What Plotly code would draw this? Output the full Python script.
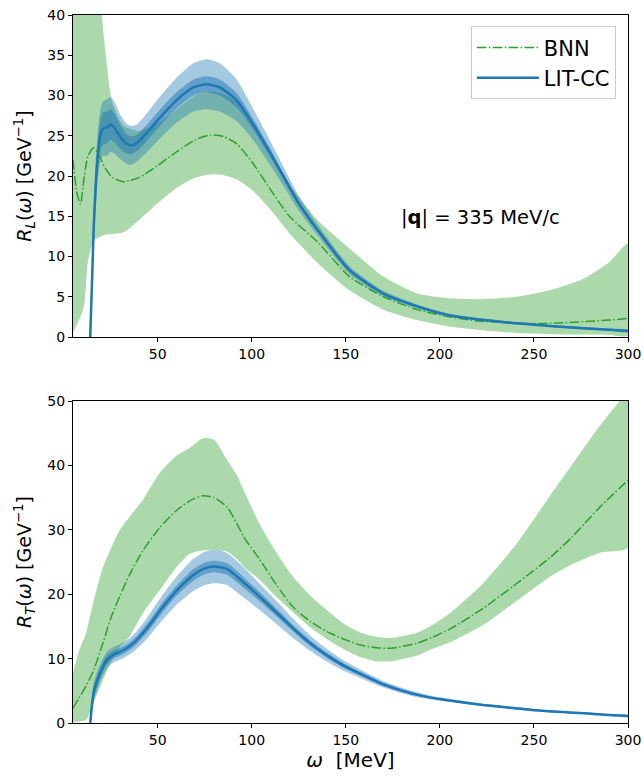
import plotly.graph_objects as go

# ---------------- Data ----------------
# Longitudinal response R_L, BNN
omega_bnn_L = [5, 7, 9, 11, 13, 16, 19, 22, 26, 32, 40, 50, 60, 70, 78, 85, 92, 100,
               110, 120, 135, 152, 170, 188, 205, 220, 241, 260, 276, 290, 300]
RL_bnn_mean = [22, 18, 16.5, 20, 22.5, 23.5, 22.5, 21, 19.8, 19.3, 19.8, 21.3, 23, 24.5, 25.1,
               24.9, 24, 21.8, 18.3, 15, 11.8, 7.5, 5, 3.4, 2.5, 2.0, 1.7, 1.7, 1.9, 2.1, 2.3]
RL_bnn_upper = [60, 60, 60, 58, 55, 48, 43, 36, 29, 26.2, 25.6, 26.5, 28.3, 30, 30.5, 30.2,
                29.3, 27, 22.8, 19, 14.5, 11, 7.5, 5.4, 4.8, 4.7, 5.0, 5.9, 7.2, 9.3, 11.6]
RL_bnn_lower = [0.5, 1.5, 2.5, 4, 9.5, 12, 12.4, 12.7, 12.8, 13, 14.5, 16.6, 18.5, 19.8, 20.2,
                20.1, 19.6, 18.3, 15.8, 12.9, 9.2, 5.8, 3.4, 2.1, 1.3, 0.9, 0.5, 0.35, 0.3, 0.25, 0.2]

# Longitudinal response R_L, LIT-CC
omega_lit_L = [14, 15, 16, 17, 18, 19.5, 21, 23, 25, 27, 30, 33.5, 36, 39, 44, 51, 60, 69, 76,
               83, 92, 100, 110, 117, 125, 135, 152, 170, 188, 205, 220, 241, 260, 276, 290, 300]
RL_lit_mean = [-1, 6, 13.5, 18.5, 22, 25, 25.9, 26, 26.4, 26, 24.9, 24, 23.8, 24.1, 25.3, 27.2,
               29.4, 31, 31.4, 31, 29.4, 26.7, 22.8, 19.9, 16.6, 13.3, 8.3, 5.4, 3.8, 2.7, 2.2,
               1.7, 1.35, 1.1, 0.9, 0.75]
RL_lit_err_outer = [3, 3, 3, 3, 3, 3.2, 3.4, 3.5, 3.4, 3.2, 2.8, 2.5, 2.4, 2.3, 2.4, 2.6, 2.8,
                    3.0, 3.1, 3.0, 2.6, 2.0, 1.5, 1.2, 0.9, 0.7, 0.5, 0.35, 0.25, 0.2, 0.15,
                    0.15, 0.15, 0.15, 0.15, 0.15]
RL_lit_err_inner = [1.8, 1.8, 1.8, 1.8, 1.8, 1.9, 2.0, 2.0, 1.9, 1.8, 1.5, 1.2, 1.1, 1.0, 1.0,
                    1.0, 1.0, 1.0, 1.0, 1.0, 0.9, 0.7, 0.5, 0.4, 0.3, 0.25, 0.2, 0.15, 0.12,
                    0.1, 0.1, 0.1, 0.1, 0.1, 0.1, 0.1]

# Transverse response R_T, BNN
omega_bnn_T = [5, 8, 12, 16, 21, 25, 30, 35, 42, 51, 60, 67, 74, 80, 87, 92, 96, 104, 113, 122,
               131, 140, 150, 158, 166, 174, 188, 196, 206, 223, 241, 259, 270, 277, 286, 300]
RT_bnn_mean = [2.3, 3.8, 5.8, 8.2, 12.5, 16.2, 19.8, 23, 26.7, 30.3, 33, 34.5, 35.3, 35.0, 33.5,
               31, 28.8, 25.5, 21.5, 18, 15.8, 14.2, 12.9, 12.1, 11.7, 11.6, 12.4, 13.3, 14.7,
               17.8, 21.7, 25.8, 28.8, 31, 33.8, 37.7]
RT_bnn_upper = [7.8, 11, 14, 19, 24.2, 27, 30, 32, 34.6, 38.8, 41.5, 42.7, 44.2, 44, 40.8, 38.5,
                36, 31, 26.5, 22.7, 19.8, 17.5, 15.2, 14, 13.4, 13.2, 14, 15.2, 17.2, 21.7,
                27.9, 35.5, 40, 42.9, 46.5, 51]
RT_bnn_lower = [0.2, 0.2, 0.5, 3.2, 6.7, 9.3, 11.8, 13.4, 17, 20.6, 24.2, 26.3, 26.8, 26.9, 26.6,
                25.5, 24.2, 22.3, 19.6, 17.2, 14.9, 13, 11.3, 10.2, 9.6, 9.6, 10.5, 11.5, 12.6,
                15.2, 19, 22.8, 24.6, 25.5, 26.5, 27.2]

# Transverse response R_T, LIT-CC
omega_lit_T = [14, 15, 16, 17, 19.5, 23, 26.5, 31.8, 37.2, 44.3, 51.4, 60.2, 69, 75, 80, 87, 97,
               105, 113, 122, 131, 140, 149, 158, 170, 185, 196, 210, 223, 240, 250, 265, 277,
               290, 300]
RT_lit_mean = [-0.5, 2.5, 4.8, 5.8, 7.8, 9.8, 10.6, 11.3, 12.4, 14.7, 17.5, 20.6, 23, 24, 24.3,
               23.9, 21.5, 19.4, 17.2, 14.7, 12.4, 10.5, 8.9, 7.6, 6.0, 4.6, 3.9, 3.3, 2.8, 2.3,
               2.0, 1.7, 1.5, 1.25, 1.1]
RT_lit_err_outer = [1.5, 1.5, 1.5, 1.5, 1.4, 1.3, 1.2, 1.2, 1.3, 1.6, 1.9, 2.2, 2.5, 2.6, 2.6,
                    2.5, 2.3, 2.0, 1.8, 1.5, 1.2, 1.0, 0.8, 0.65, 0.5, 0.4, 0.3, 0.25, 0.2, 0.2,
                    0.2, 0.15, 0.15, 0.15, 0.15]
RT_lit_err_inner = [1.0, 1.0, 1.0, 0.9, 0.8, 0.7, 0.6, 0.6, 0.6, 0.7, 0.8, 0.8, 0.9, 0.9, 0.9,
                    0.9, 0.8, 0.7, 0.6, 0.5, 0.45, 0.4, 0.35, 0.3, 0.25, 0.2, 0.15, 0.12, 0.1,
                    0.1, 0.1, 0.1, 0.1, 0.1, 0.1]

x_ticks = [50, 100, 150, 200, 250, 300]
yL_ticks = [0, 5, 10, 15, 20, 25, 30, 35, 40]
yT_ticks = [0, 10, 20, 30, 40, 50]

# ---------------- Styling ----------------
GREEN = "#2ca02c"
BLUE = "#1f77b4"
GREEN_FILL = "rgba(44,160,44,0.4)"
BLUE_FILL_OUT = "rgba(31,119,180,0.4)"
BLUE_FILL_IN = "rgba(31,119,180,0.5)"
FONT = "DejaVu Sans"
BNN_DASH = "9.6px,2.4px,1.5px,2.4px"


def band(x, lo, hi, color, xa, ya):
    return go.Scatter(x=list(x) + list(x)[::-1], y=list(hi) + list(lo)[::-1],
                      fill="toself", fillcolor=color, mode="lines",
                      line=dict(width=0, shape="spline", smoothing=0.6),
                      showlegend=False, hoverinfo="skip", xaxis=xa, yaxis=ya)


def add_panel(fig, wb, mb, ub, lb, wl, ml, eo, ei, xa, ya, legend):
    fig.add_trace(band(wb, lb, ub, GREEN_FILL, xa, ya))
    fig.add_trace(band(wl, [m - e for m, e in zip(ml, eo)], [m + e for m, e in zip(ml, eo)],
                       BLUE_FILL_OUT, xa, ya))
    fig.add_trace(band(wl, [m - e for m, e in zip(ml, ei)], [m + e for m, e in zip(ml, ei)],
                       BLUE_FILL_IN, xa, ya))
    fig.add_trace(go.Scatter(x=wb, y=mb, mode="lines", name="BNN",
                             line=dict(color=GREEN, width=1.5, dash=BNN_DASH,
                                       shape="spline", smoothing=0.6),
                             showlegend=legend, legendgroup="a", xaxis=xa, yaxis=ya))
    fig.add_trace(go.Scatter(x=wl, y=ml, mode="lines", name="LIT-CC",
                             line=dict(color=BLUE, width=2.5, shape="spline", smoothing=0.6),
                             showlegend=legend, legendgroup="b", xaxis=xa, yaxis=ya))


fig = go.Figure()
add_panel(fig, omega_bnn_L, RL_bnn_mean, RL_bnn_upper, RL_bnn_lower,
          omega_lit_L, RL_lit_mean, RL_lit_err_outer, RL_lit_err_inner, "x", "y", True)
add_panel(fig, omega_bnn_T, RT_bnn_mean, RT_bnn_upper, RT_bnn_lower,
          omega_lit_T, RT_lit_mean, RT_lit_err_outer, RT_lit_err_inner, "x2", "y2", False)

axis_common = dict(showline=True, mirror=True, linecolor="black", linewidth=1,
                   ticks="outside", ticklen=4, tickwidth=1, tickcolor="black",
                   showgrid=False, zeroline=False, automargin=False,
                   tickfont=dict(family=FONT, size=14, color="black"))

fig.update_layout(
    width=644, height=777,
    margin=dict(l=73, r=16, t=15, b=54),
    paper_bgcolor="white", plot_bgcolor="white",
    font=dict(family=FONT, color="black"),
    xaxis=dict(domain=[0, 1], anchor="y", range=[5, 300], tickvals=x_ticks, **axis_common),
    yaxis=dict(domain=[0.5452, 1], anchor="x", range=[0, 40], tickvals=yL_ticks,
               title=dict(text="<i>R<sub>L</sub></i>(<i>ω</i>) [GeV<sup>−1</sup>]",
                          font=dict(family=FONT, size=19), standoff=10),
               **axis_common),
    xaxis2=dict(domain=[0, 1], anchor="y2", range=[5, 300], tickvals=x_ticks,
                title=dict(text="<i>ω</i>  [MeV]", font=dict(family=FONT, size=20), standoff=6),
                **axis_common),
    yaxis2=dict(domain=[0, 0.4548], anchor="x2", range=[0, 50], tickvals=yT_ticks,
                title=dict(text="<i>R<sub>T</sub></i>(<i>ω</i>) [GeV<sup>−1</sup>]",
                           font=dict(family=FONT, size=19), standoff=10),
                **axis_common),
    legend=dict(x=0.978, xanchor="right", y=0.984, yanchor="top",
                bgcolor="white", bordercolor="#cccccc", borderwidth=1,
                font=dict(family=FONT, size=21), tracegroupgap=0, itemwidth=62),
    showlegend=True,
    annotations=[dict(x=221.6, y=14.9, xref="x", yref="y",
                      text="|<b>q</b>| = 335 MeV/c", showarrow=False,
                      font=dict(family=FONT, size=19.5, color="black"))],
)

fig.write_html("out.html")
